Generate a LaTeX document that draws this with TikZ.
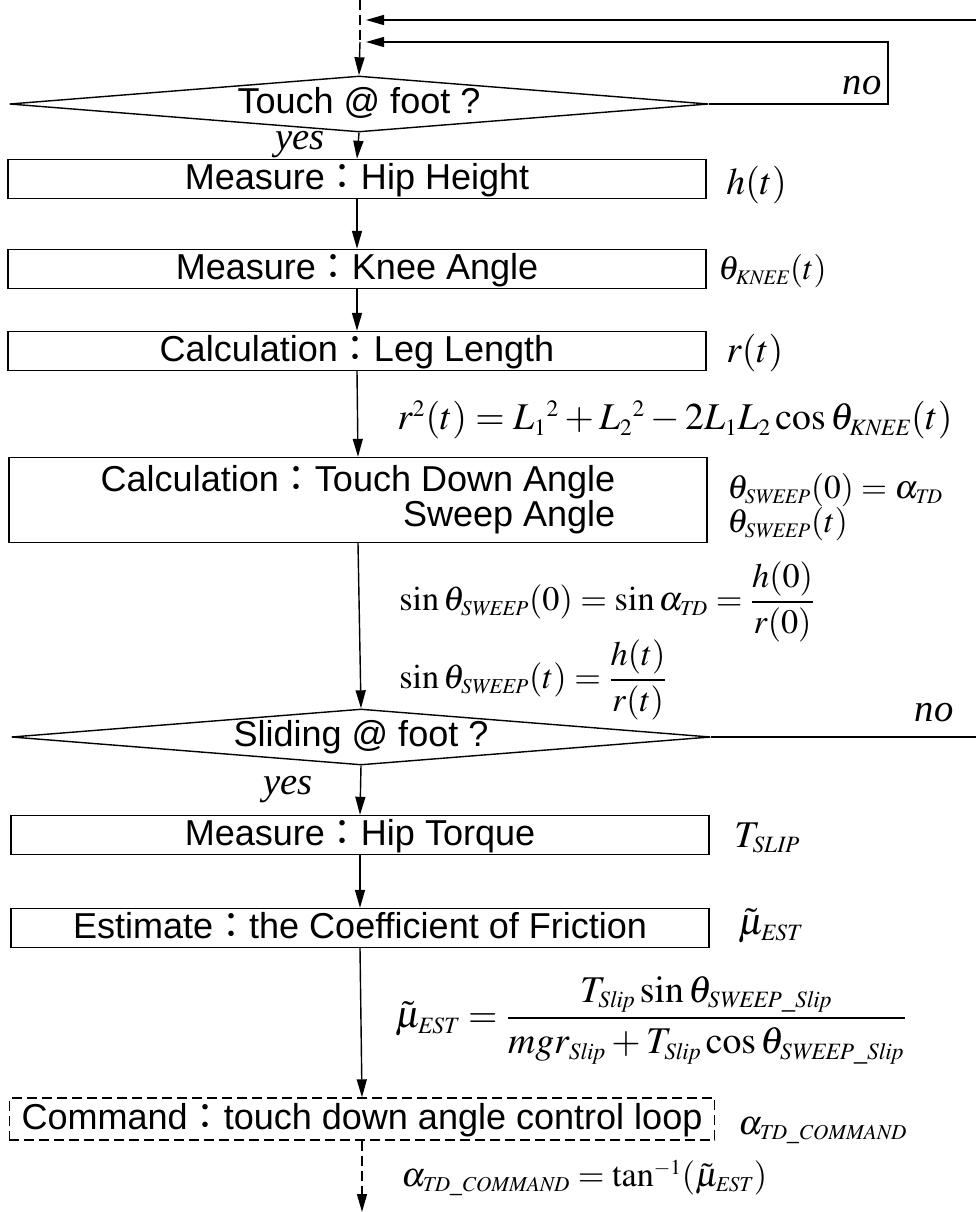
\documentclass[tikz,border=0pt]{standalone}
\usepackage{amsmath}
\usepackage{mathptmx}
\usepackage[no-math]{fontspec}
\setmainfont{Liberation Sans}
\newfontfamily\cjk{Noto Sans CJK KR}
\newfontfamily\tms{Liberation Serif}
\usepackage{tikz}
\usetikzlibrary{arrows.meta, positioning, calc, shapes.geometric}
\renewcommand{\defaultscriptratio}{.62}
\renewcommand{\defaultscriptscriptratio}{.45}
\newcommand{\fwcolon}{{\cjk ：}}
\newcommand{\isub}[1]{_{\mathit{#1}}}

\begin{document}
\begin{tikzpicture}[
  x=0.2mm, y=-0.2mm,
  stepbox/.style={rectangle, draw, line width=0.8pt, inner sep=0pt,
                  minimum width=139.6mm, minimum height=7.8mm,
                  text height=16pt, text depth=3.5pt,
                  font=\fontsize{20.5}{21}\selectfont},
  decision/.style={diamond, draw, line width=0.8pt, inner sep=0pt, aspect=12,
                   minimum width=139.8mm, minimum height=11.2mm,
                   text height=15pt, text depth=4pt,
                   font=\fontsize{20.5}{21}\selectfont},
  note/.style={anchor=west, inner sep=0pt, font=\fontsize{19.5}{24}\selectfont},
  bignote/.style={note, font=\fontsize{21.5}{26}\selectfont},
  answer/.style={inner sep=0pt, font=\tms\itshape\fontsize{22}{26}\selectfont},
  flow/.style={-{Triangle[length=3.6mm, width=2mm]}, line width=0.8pt},
  dashy/.style={dash pattern=on 2mm off 1mm},
  >=Stealth
]
  \useasboundingbox (0,0) rectangle (976,1212);

  % ── Nodes ──────────────────────────────────────────────────────────────────
  \node[decision] (touch) at (359,104) {Touch @ foot ?};
  \node[stepbox]  (hip)   at (357,179) {Measure\fwcolon Hip Height};
  \node[stepbox]  (knee)  at (357,269) {Measure\fwcolon Knee Angle};
  \node[stepbox]  (leg)   at (357,351) {Calculation\fwcolon Leg Length};
  \node[stepbox, minimum height=17mm, align=right, text height=, text depth=,
        font=\fontsize{20.5}{20}\selectfont]
                  (sweep) at (358,500)
    {Calculation\fwcolon Touch Down Angle\\Sweep Angle};
  \node[decision] (slide) at (361,737) {Sliding @ foot ?};
  \node[stepbox]  (torq)  at (360,835) {Measure\fwcolon Hip Torque};
  \node[stepbox]  (fric)  at (360,928) {Estimate\fwcolon the Coefficient of Friction};
  \node[stepbox, dashy, minimum width=141mm, minimum height=8.4mm] (cmd) at (362,1119)
    {Command\fwcolon touch down angle control loop};

  \coordinate (top)   at (360,0);
  \coordinate (join)  at (360,42);
  \coordinate (back1) at (976,20);
  \coordinate (tip1)  at (366,20);
  \coordinate (tip2)  at (366,42);
  \coordinate (loop)  at (888,104);
  \coordinate (away)  at (976,737);
  \coordinate (out)   at (362,1212);

  % ── Branch labels ──────────────────────────────────────────────────────────
  \node[answer] (no1)  at (862,86)  {no};
  \node[answer] (yes1) at (300,145) {yes};
  \node[answer] (no2)  at (934,713) {no};
  \node[answer] (yes2) at (288,790) {yes};

  % ── Side labels ────────────────────────────────────────────────────────────
  \node[bignote] (lh) at (726,185)  {$h(t)$};
  \node[note, font=\fontsize{19}{24}\selectfont] (lk) at (718,271)
    {$\theta\isub{KNEE}(t)$};
  \node[bignote] (lr) at (726,353)  {$r(t)$};
  \node[note, font=\fontsize{19}{24}\selectfont] (lsw0) at (727,490)
    {$\theta\isub{SWEEP}(0)=\alpha\isub{TD}$};
  \node[note, font=\fontsize{19}{24}\selectfont] (lswt) at (727,524)
    {$\theta\isub{SWEEP}(t)$};
  \node[bignote] (lt) at (734,838)  {$T\isub{SLIP}$};
  \node[bignote] (lmu) at (738,926) {$\tilde{\mu}\isub{EST}$};
  \node[note] (lcmd)  at (738,1131) {$\alpha\isub{TD\_COMMAND}$};

  % ── Equations along the flow ───────────────────────────────────────────────
  \node[bignote] (eqleg) at (397,420)
    {$r^2(t)=L_1{}^2+L_2{}^2-2L_1L_2\cos\theta\isub{KNEE}(t)$};
  \node[note] (eqtd) at (399,602)
    {$\sin\theta\isub{SWEEP}(0)=\sin\alpha\isub{TD}=\dfrac{h(0)}{r(0)}$};
  \node[note] (eqsw) at (399,680)
    {$\sin\theta\isub{SWEEP}(t)=\dfrac{h(t)}{r(t)}$};
  \node[bignote] (eqmu) at (395,1020)
    {$\tilde{\mu}\isub{EST}=\dfrac{T\isub{Slip}\sin\theta\isub{SWEEP\_Slip}}
      {mgr\isub{Slip}+T\isub{Slip}\cos\theta\isub{SWEEP\_Slip}}$};
  \node[note] (eqcmd) at (401,1178)
    {$\alpha\isub{TD\_COMMAND}=\tan^{-1}(\tilde{\mu}\isub{EST})$};

  % ── Connections ────────────────────────────────────────────────────────────
  \draw[dashy, line width=0.8pt] (top) -- (join);
  \draw[flow] (join) -- (touch.north);
  \draw[flow] (back1) -- (tip1);
  \draw[flow] (touch.east) -- (loop) |- (tip2);
  \draw[flow] (touch.south) -- (hip.north);
  \draw[flow] (hip.south) -- (knee.north);
  \draw[flow] (knee.south) -- (leg.north);
  \draw[flow] (leg.south) -- (sweep.north);
  \draw[flow] (sweep.south) -- (slide.north);
  \draw[line width=0.8pt] (slide.east) -- (away);
  \draw[flow] (slide.south) -- (torq.north);
  \draw[flow] (torq.south) -- (fric.north);
  \draw[flow] (fric.south) -- (cmd.north);
  \draw[flow, dashy] (cmd.south) -- (out);
\end{tikzpicture}
\end{document}
